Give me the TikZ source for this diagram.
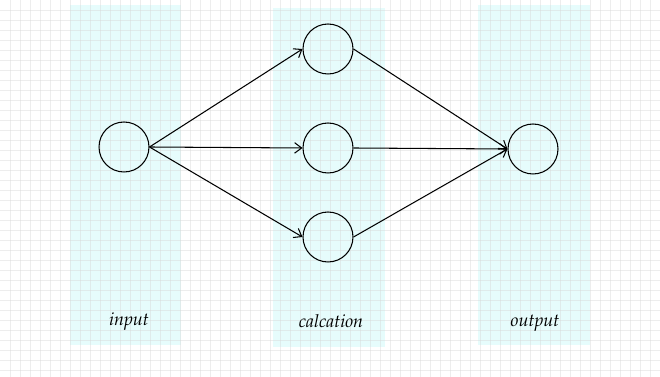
\documentclass[tikz,border=0pt]{standalone}
\usepackage[T1]{fontenc}
\usepackage{mathpazo}
\usetikzlibrary{arrows.meta}
\definecolor{lanecyan}{HTML}{E6FCFC}
\definecolor{gridgray}{HTML}{D8D8D8}

\begin{document}
\begin{tikzpicture}[x=0.02cm,y=-0.02cm,
    unit/.style={draw,circle,inner sep=0pt,minimum size=1cm,line width=0.6pt},
    lane/.style={fill=lanecyan,draw=none},
    tag/.style={font=\fontsize{10.2}{12}\selectfont\itshape,anchor=base},
    link/.style={-{Straight Barb[length=4pt,width=6pt]},line width=0.6pt}]
  \useasboundingbox (0,0) rectangle (660,377);
  \fill[white] (0,0) rectangle (660,377);

  % lanes
  \fill[lane] (70,5) rectangle (181,345);
  \fill[lane] (273,8) rectangle (385,347);
  \fill[lane] (478,5) rectangle (590,345);

  % grid
  \foreach \gx in {10,20,...,650}
    \draw[gridgray,opacity=0.45,line width=0.3pt] (\gx,0) -- (\gx,377);
  \foreach \gy in {10,20,...,370}
    \draw[gridgray,opacity=0.45,line width=0.3pt] (0,\gy) -- (660,\gy);

  % units
  \node[unit] (in) at (124,147) {};
  \node[unit] (c1) at (328,49) {};
  \node[unit] (c2) at (328,148) {};
  \node[unit] (c3) at (328,237) {};
  \node[unit] (out) at (533,149) {};

  % connections
  \draw[link] (in.east) -- (c1.west);
  \draw[link] (in.east) -- (c2.west);
  \draw[link] (in.east) -- (c3.west);
  \draw[link] (c1.east) -- (out.west);
  \draw[link] (c2.east) -- (out.west);
  \draw[link] (c3.east) -- (out.west);

  % lane titles
  \node[tag] (tin) at (129,326) {input};
  \node[tag] (tcalc) at (331,328) {calcation};
  \node[tag] (tout) at (535,327) {output};
\end{tikzpicture}
\end{document}
